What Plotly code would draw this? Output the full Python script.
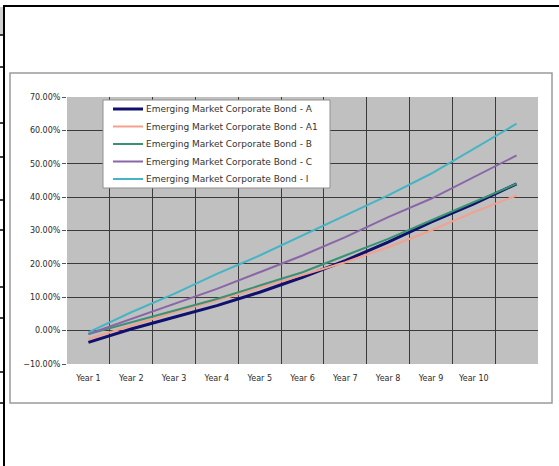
import plotly.graph_objects as go

W, H = 559, 466

years = ["Year 1", "Year 2", "Year 3", "Year 4", "Year 5", "Year 6",
         "Year 7", "Year 8", "Year 9", "Year 10", ""]

series_names = [
    "Emerging Market Corporate Bond - A",
    "Emerging Market Corporate Bond - A1",
    "Emerging Market Corporate Bond - B",
    "Emerging Market Corporate Bond - C",
    "Emerging Market Corporate Bond - I",
]

bond_a = [-0.035, 0.005, 0.040, 0.075, 0.115, 0.160, 0.210, 0.265, 0.325, 0.380, 0.440]
bond_a1 = [-0.025, 0.015, 0.055, 0.090, 0.128, 0.165, 0.205, 0.250, 0.300, 0.355, 0.405]
bond_b = [-0.010, 0.025, 0.060, 0.095, 0.135, 0.175, 0.225, 0.275, 0.330, 0.385, 0.440]
bond_c = [-0.010, 0.035, 0.080, 0.125, 0.175, 0.225, 0.280, 0.340, 0.395, 0.460, 0.525]
bond_i = [-0.005, 0.055, 0.110, 0.170, 0.225, 0.285, 0.345, 0.405, 0.470, 0.545, 0.620]

y_ticks = [-0.10, 0.0, 0.10, 0.20, 0.30, 0.40, 0.50, 0.60, 0.70]

colors = ["#10106e", "#f4a08e", "#3a9274", "#8a66a8", "#45b4c4"]
widths = [3, 2, 2, 2, 2]
values = [bond_a, bond_a1, bond_b, bond_c, bond_i]

xs = list(range(1, len(years) + 1))

fig = go.Figure()
for name, vals, col, w in zip(series_names, values, colors, widths):
    fig.add_trace(go.Scatter(x=xs, y=vals, mode="lines", name=name,
                             line=dict(color=col, width=w), showlegend=False))


def px(x):
    return x / W


def py(y):
    return 1 - y / H


# plot area in pixels
PL, PR, PT, PB = 67, 538, 97, 364

grid_col = "#3a3a3a"
font_col = "#2a2a2a"
FONT = "DejaVu Sans, Arial, sans-serif"

fig.update_layout(
    width=W, height=H,
    margin=dict(l=0, r=0, t=0, b=0),
    paper_bgcolor="white",
    plot_bgcolor="#c0c0c0",
    showlegend=False,
    font=dict(family=FONT, size=8, color=font_col),
    xaxis=dict(
        domain=[px(PL), px(PR)],
        range=[0.5, len(years) + 0.5],
        tickmode="array", tickvals=xs[:10], ticktext=years[:10],
        showgrid=False, zeroline=False, showline=False,
        ticks="", automargin=False, ticklabelstandoff=8,
        tickfont=dict(family=FONT, size=8, color=font_col),
        minor=dict(tickvals=[i + 0.5 for i in range(1, len(years))],
                   showgrid=True, gridcolor=grid_col, gridwidth=1,
                   ticks=""),
        fixedrange=True,
    ),
    yaxis=dict(
        domain=[py(PB), py(PT)],
        range=[-0.10, 0.70],
        tickmode="array", tickvals=y_ticks,
        tickformat=".2%",
        showgrid=True, gridcolor=grid_col, gridwidth=1,
        zeroline=False, showline=False,
        ticks="outside", ticklen=4, tickcolor="#555555",
        automargin=False,
        tickfont=dict(family=FONT, size=8, color=font_col),
        fixedrange=True,
    ),
)

shapes = []
annotations = []
# chart area border
shapes.append(dict(type="rect", xref="paper", yref="paper",
                   x0=px(10), x1=px(552), y0=py(403), y1=py(73),
                   line=dict(color="#9a9a9a", width=1.5), layer="below"))
# spreadsheet frame: top and left thick lines
shapes.append(dict(type="line", xref="paper", yref="paper",
                   x0=px(3), x1=px(559), y0=py(6), y1=py(6),
                   line=dict(color="black", width=2)))
shapes.append(dict(type="line", xref="paper", yref="paper",
                   x0=px(4), x1=px(4), y0=py(5), y1=py(466),
                   line=dict(color="black", width=2)))
# gray cell at top-left
shapes.append(dict(type="rect", xref="paper", yref="paper",
                   x0=0, x1=px(3), y0=py(35), y1=py(7),
                   fillcolor="#d0d0d0", line=dict(width=0)))
for yy in [35, 67, 123, 157, 200, 230, 287, 318, 372, 403]:
    shapes.append(dict(type="line", xref="paper", yref="paper",
                       x0=0, x1=px(4), y0=py(yy), y1=py(yy),
                       line=dict(color="black", width=1.5)))

# legend box (drawn to match the spreadsheet chart's compact legend)
LX0, LX1, LY0, LY1 = 103, 330, 100, 188
shapes.append(dict(type="rect", xref="paper", yref="paper",
                   x0=px(LX0), x1=px(LX1), y0=py(LY1), y1=py(LY0),
                   fillcolor="white", line=dict(color="#909090", width=1)))
for i, (name, col, w) in enumerate(zip(series_names, colors, widths)):
    yy = 109 + i * 17.5
    shapes.append(dict(type="line", xref="paper", yref="paper",
                       x0=px(113), x1=px(143), y0=py(yy), y1=py(yy),
                       line=dict(color=col, width=w)))
    annotations.append(dict(xref="paper", yref="paper", x=px(144), y=py(yy),
                            xanchor="left", yanchor="middle", showarrow=False,
                            text=name,
                            font=dict(family=FONT, size=9, color="#333333")))

fig.update_layout(shapes=shapes, annotations=annotations)

fig.write_html("out.html",
               config={"displayModeBar": False},
               post_script="document.body.style.margin='0px';"
                           "document.body.style.overflow='hidden';")
